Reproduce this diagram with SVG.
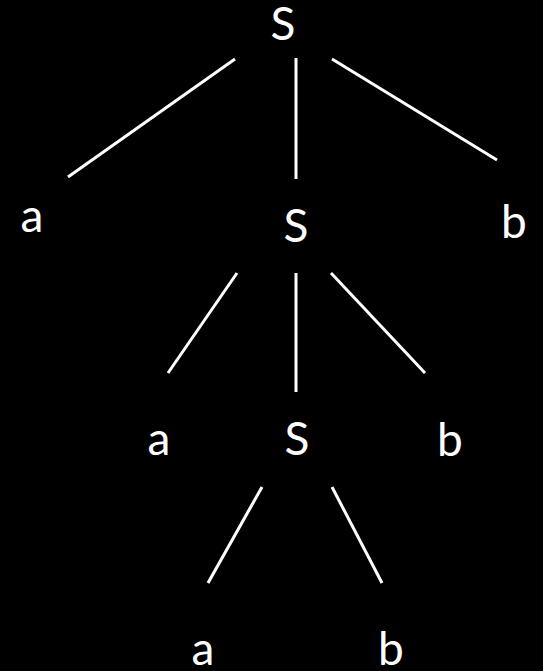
<svg xmlns="http://www.w3.org/2000/svg" width="543" height="671" viewBox="0 0 543 671">
<style>
.t{font-family:Lato,"Open Sans","Liberation Sans",sans-serif;font-size:46px;fill:#fff;text-anchor:middle}
.e{stroke:#fff;stroke-width:3;fill:none}
</style>
<rect width="543" height="671" fill="#000"/>
<g id="connectors" class="e">
<line x1="235" y1="59" x2="68" y2="177"/>
<line x1="296" y1="58" x2="296" y2="179"/>
<line x1="332" y1="59" x2="497" y2="160"/>
<line x1="237" y1="273" x2="168" y2="373"/>
<line x1="296" y1="273" x2="296" y2="392"/>
<line x1="331" y1="273" x2="425" y2="373"/>
<line x1="262" y1="487" x2="208" y2="583"/>
<line x1="332" y1="487" x2="382" y2="583"/>
</g>
<g id="s1"><text class="t" x="283" y="40">S</text></g>
<g id="a1"><text class="t" x="32" y="232">a</text></g>
<g id="s2"><text class="t" x="296" y="242">S</text></g>
<g id="b1"><text class="t" x="514" y="238">b</text></g>
<g id="a2"><text class="t" x="159" y="455">a</text></g>
<g id="s3"><text class="t" x="297" y="455">S</text></g>
<g id="b2"><text class="t" x="450" y="456">b</text></g>
<g id="a3"><text class="t" x="203" y="665">a</text></g>
<g id="b3"><text class="t" x="391" y="665">b</text></g>
</svg>
